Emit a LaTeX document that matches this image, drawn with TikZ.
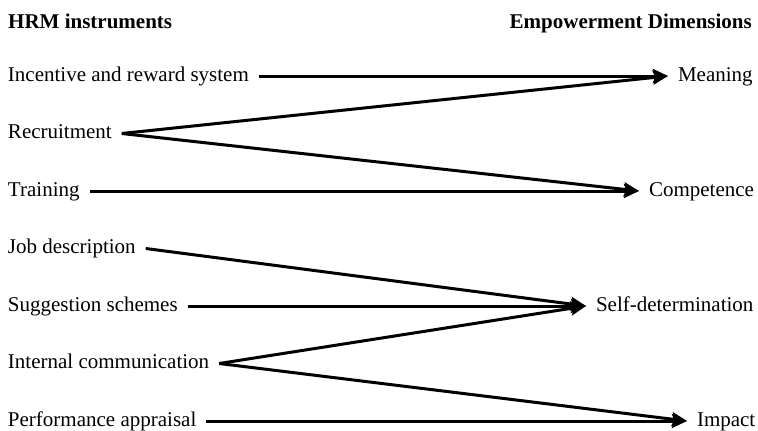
\documentclass[tikz,border=0pt]{standalone}
\usepackage{fontspec}
\setmainfont{Liberation Serif}
\usetikzlibrary{arrows.meta}
\begin{document}
\begin{tikzpicture}[x=1pt,y=1pt,
  lbl/.style={font=\fontsize{21}{24}\selectfont, inner sep=0pt, text height=14pt, text depth=4pt},
  lefttxt/.style={lbl, anchor=west, outer xsep=10pt},
  righttxt/.style={lbl, anchor=west, outer xsep=10pt},
  head/.style={lbl, font=\fontsize{21}{24}\selectfont\bfseries},
  conn/.style={line width=3pt, -{Stealth[length=15pt,width=14pt,inset=2.5pt]}}
]
\useasboundingbox (0,0) rectangle (758,-431);

\node[head, anchor=west] (hl) at (8,-23) {HRM instruments};
\node[head, anchor=east] (hr) at (752,-23) {Empowerment Dimensions};

\node[lefttxt, xshift=-10pt] (inc) at (8,-76) {Incentive and reward system};
\node[lefttxt, xshift=-10pt] (rec) at (8,-133.5) {Recruitment};
\node[lefttxt, xshift=-10pt] (tra) at (8,-191) {Training};
\node[lefttxt, xshift=-10pt] (job) at (8,-248.5) {Job description};
\node[lefttxt, xshift=-10pt] (sug) at (8,-306) {Suggestion schemes};
\node[lefttxt, xshift=-10pt] (int) at (8,-363.5) {Internal communication};
\node[lefttxt, xshift=-10pt] (per) at (8,-421) {Performance appraisal};

\node[righttxt, xshift=-10pt] (mea) at (678,-76) {Meaning};
\node[righttxt, xshift=-10pt] (com) at (649,-191) {Competence};
\node[righttxt, xshift=-10pt] (sel) at (596,-306) {Self-determination};
\node[righttxt, xshift=-10pt] (imp) at (697,-421) {Impact};

\draw[conn] (inc.east) -- (mea.west);
\draw[conn] (rec.east) -- (mea.west);
\draw[conn] (rec.east) -- (com.west);
\draw[conn] (tra.east) -- (com.west);
\draw[conn] (job.east) -- (sel.west);
\draw[conn] (sug.east) -- (sel.west);
\draw[conn] (int.east) -- (sel.west);
\draw[conn] (int.east) -- (imp.west);
\draw[conn] (per.east) -- (imp.west);
\end{tikzpicture}
\end{document}
